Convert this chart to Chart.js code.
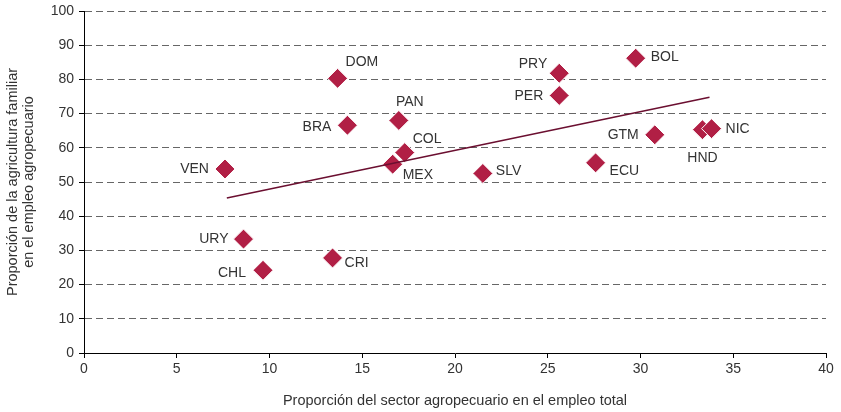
<!DOCTYPE html>
<html>
<head>
<meta charset="utf-8">
<script src="https://cdn.jsdelivr.net/npm/chart.js@4"></script>
<style>
  html, body { margin: 0; padding: 0; background: #fff; }
  #wrap { width: 841px; height: 412px; position: relative; }
</style>
</head>
<body>
<div id="wrap"><canvas id="chart"></canvas></div>
<script>
// países y valores
const countries = ['VEN', 'URY', 'CHL', 'DOM', 'BRA', 'CRI', 'PAN', 'COL', 'MEX',
                   'SLV', 'PRY', 'PER', 'BOL', 'ECU', 'GTM', 'HND', 'NIC'];
const sectorShare = [7.6, 8.6, 9.65, 13.67, 14.2, 13.4, 16.97, 17.29, 16.64,
                     21.5, 25.62, 25.62, 29.74, 27.58, 30.77, 33.34, 33.83];
const familyShare = [53.8, 33.3, 24.2, 80.3, 66.6, 27.8, 68.0, 58.6, 55.2,
                     52.5, 81.8, 75.3, 86.2, 55.6, 63.8, 65.3, 65.6];
// línea de tendencia (extremos)
const trendX = [7.7, 33.72];
const trendY = [45.3, 74.8];
const xTicks = [0, 5, 10, 15, 20, 25, 30, 35, 40];
const yTicks = [0, 10, 20, 30, 40, 50, 60, 70, 80, 90, 100];

// desplazamiento de cada etiqueta respecto a su punto: [dx, dy, align]
const labelPos = {
    VEN: [-16, 0, 'right'], URY: [-15, 0, 'right'], CHL: [-17, 3, 'right'],
    DOM: [8, -16, 'left'], BRA: [-16, 2, 'right'], CRI: [12, 5, 'left'],
    PAN: [11, -18, 'center'], COL: [8, -13, 'left'], MEX: [10, 11, 'left'],
    SLV: [13, -2, 'left'], PRY: [-12, -9, 'right'], PER: [-16, 1, 'right'],
    BOL: [15, -1, 'left'], ECU: [14, 8, 'left'], GTM: [-16, 0, 'right'],
    HND: [0, 28, 'center'], NIC: [14, 0, 'left']
};

const FONT = 'Liberation Sans, Arial, sans-serif';

const pointLabels = {
    id: 'pointLabels',
    afterDatasetsDraw(chart) {
        const meta = chart.getDatasetMeta(1);
        const ctx = chart.ctx;
        ctx.save();
        ctx.font = '14px ' + FONT;
        ctx.fillStyle = '#333';
        ctx.textBaseline = 'middle';
        meta.data.forEach((pt, i) => {
            const p = labelPos[countries[i]];
            ctx.textAlign = p[2];
            ctx.fillText(countries[i], pt.x + p[0], pt.y + p[1]);
        });
        ctx.restore();
    }
};

new Chart(document.getElementById('chart'), {
    type: 'scatter',
    data: {
        datasets: [
            {
                type: 'line',
                data: trendX.map((x, i) => ({ x: x, y: trendY[i] })),
                borderColor: '#6b0f30',
                borderWidth: 1.5,
                pointRadius: 0,
                fill: false,
                order: 0
            },
            {
                data: sectorShare.map((x, i) => ({ x: x, y: familyShare[i] })),
                pointStyle: 'rectRot',
                pointRadius: 10,
                pointHoverRadius: 10,
                backgroundColor: '#b11f45',
                borderColor: '#ffffff',
                borderWidth: 1,
                order: 1
            }
        ]
    },
    options: {
        responsive: true,
        maintainAspectRatio: false,
        animation: false,
        layout: { padding: { top: 0, right: 15, bottom: 0, left: 0 } },
        plugins: {
            legend: { display: false },
            tooltip: { enabled: false }
        },
        scales: {
            x: {
                type: 'linear',
                min: 0,
                max: 40,
                afterBuildTicks: (scale) => { scale.ticks = xTicks.map(v => ({ value: v })); },
                afterFit: (scale) => { scale.height = 59; },
                border: { color: '#000', width: 1 },
                grid: { drawOnChartArea: false, drawTicks: true, tickLength: 5, tickColor: '#000' },
                ticks: { color: '#333', padding: 3, font: { family: FONT, size: 14 } },
                title: {
                    display: true,
                    text: 'Proporción del sector agropecuario en el empleo total',
                    color: '#333',
                    font: { family: FONT, size: 14.5, lineHeight: 1.25 },
                    padding: { top: 0, bottom: 2 }
                }
            },
            y: {
                type: 'linear',
                min: 0,
                max: 100,
                afterBuildTicks: (scale) => { scale.ticks = yTicks.map(v => ({ value: v })); },
                afterFit: (scale) => { scale.width = 84; scale.paddingTop = 0; },
                border: { color: '#000', width: 1, dash: [7, 4] },
                grid: {
                    color: (c) => (c.tick && c.tick.value === 0) ? 'rgba(0,0,0,0)' : '#666',
                    tickColor: '#000',
                    tickLength: 5,
                    lineWidth: 1
                },
                ticks: { color: '#333', padding: 5, font: { family: FONT, size: 14 } },
                title: {
                    display: true,
                    text: ['Proporción de la agricultura familiar', 'en el empleo agropecuario'],
                    color: '#333',
                    font: { family: FONT, size: 14.5, lineHeight: 1.1 },
                    padding: { top: 5, bottom: 0 }
                }
            }
        }
    },
    plugins: [pointLabels]
});
</script>
</body>
</html>
